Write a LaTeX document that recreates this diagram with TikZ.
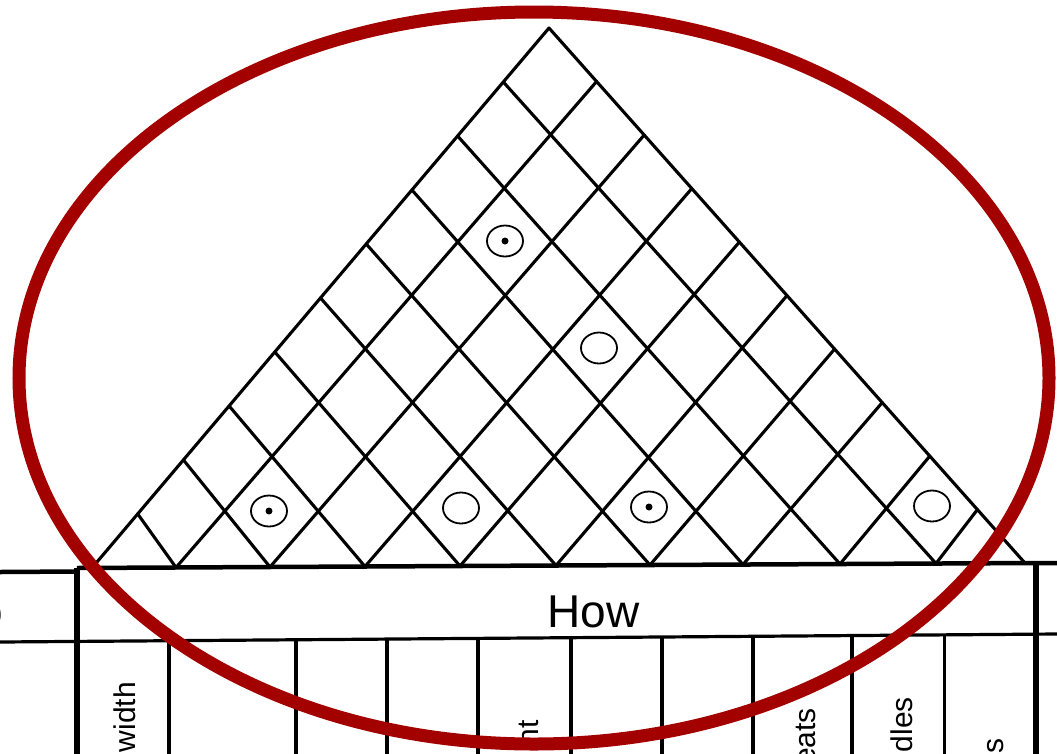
\documentclass[tikz,border=0pt]{standalone}
\usepackage{fontspec}
\setmainfont{Liberation Sans}
\usetikzlibrary{calc,shapes.geometric}
\definecolor{ringred}{RGB}{163,0,0}
\tikzset{
  gridline/.style={line width=3.1pt, black, line cap=round, line join=round},
  tableline/.style={line width=3.2pt, black},
  thickline/.style={line width=5.5pt, black},
  ring/.style={draw, ellipse, minimum width=36pt, minimum height=31pt, inner sep=0pt, line width=1.8pt},
  dot/.style={fill, circle, minimum size=7pt, inner sep=0pt},
  collabel/.style={rotate=90, anchor=base east, inner sep=0pt, font=\fontsize{30}{30}\selectfont},
  redring/.style={draw=ringred, line width=13pt}
}
\begin{document}
\begin{tikzpicture}[x=1pt,y=-1pt]
\useasboundingbox (0,0) rectangle (1057,753);
\clip (0,0) rectangle (1057,753);
\fill[white] (0,0) rectangle (1057,753);
% roof coordinates
\coordinate (A) at (549,28);
\coordinate (B0) at (92,567.9);
\coordinate (B1) at (176,567.5);
\coordinate (B2) at (270,567.0);
\coordinate (B3) at (365,566.5);
\coordinate (B4) at (460,566.0);
\coordinate (B5) at (556,565.5);
\coordinate (B6) at (650,565.0);
\coordinate (B7) at (743,564.5);
\coordinate (B8) at (840,564.0);
\coordinate (B9) at (936,563.5);
\coordinate (B10) at (1025,563.1);
% outline
\draw[gridline] (B0) -- (A) -- (B10);
\foreach \i in {1,...,9}{
  \pgfmathtruncatemacro{\k}{10-\i}
  \draw[gridline] ($(A)!\i/10!(B0)$) -- (B\k);
  \draw[gridline] ($(A)!\i/10!(B10)$) -- (B\i);
}
% symbols
\node[ring] (c1) at (505,241) {};
\node[dot] (d1) at (c1.center) {};
\node[ring] (c2) at (599,348) {};
\node[ring] (c3) at (269,511) {};
\node[dot] (d3) at (c3.center) {};
\node[ring] (c4) at (461,508) {};
\node[ring] (c5) at (649,507) {};
\node[dot] (d5) at (c5.center) {};
\node[ring] (c6) at (932,506) {};
% table
\coordinate (TL) at (0,572);
\coordinate (TLv) at (77,571.5);
\coordinate (TM) at (77,568);
\coordinate (TR) at (1036,563);
\coordinate (TRe) at (1057,563);
\draw[line width=4.5pt] (TL) -- (TLv);
\draw[line width=4.5pt] (TM) -- (TR) -- (TRe);
\coordinate (HL) at (0,642);
\coordinate (HR) at (1057,634);
\draw[tableline] (HL) -- (HR);
\coordinate (VL) at (77,568);
\coordinate (VLb) at (77,760);
\coordinate (VR) at (1036,563);
\coordinate (VRb) at (1036,760);
\draw[thickline] (VL) -- (VLb);
\draw[thickline] (VR) -- (VRb);
\foreach \x/\y in {169/641,296/640,387/639.5,478/639,571/638.5,662/638,753/637.5,852/637,944.5/636}{
  \draw[tableline] (\x,\y) -- (\x,760);
}
% texts
\node[anchor=base, inner sep=0pt, font=\fontsize{46}{46}\selectfont] (how) at (593.5,627) {How};
\node[anchor=base east, inner sep=0pt, font=\fontsize{46}{46}\selectfont] (left) at (3.5,627) {o};
\node[collabel] (l1) at (135,682) {width};
\node[collabel] (l2) at (538,720) {nt};
\node[collabel] (l3) at (815,708) {eats};
\node[collabel] (l4) at (912,697) {dles};
\node[collabel] (l5) at (1003,738) {s};
% red ellipse
\draw[redring] (534,378) ellipse [x radius=515pt, y radius=366pt];
\end{tikzpicture}
\end{document}
